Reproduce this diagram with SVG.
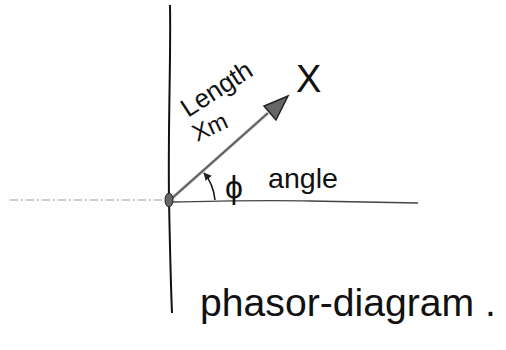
<svg xmlns="http://www.w3.org/2000/svg" width="506" height="350" viewBox="0 0 506 350">
<style>
.hand{font-family:"Liberation Sans",Arial,sans-serif;fill:#111}
</style>
<defs>
<marker id="ah" viewBox="0 0 10 10" refX="9" refY="5" markerWidth="8" markerHeight="8" orient="auto-start-reverse" markerUnits="userSpaceOnUse">
<path d="M0,0 L10,5 L0,10 z" fill="#222"/>
</marker>
</defs>
<rect width="506" height="350" fill="#fff"/>
<g id="axes">
<path d="M10,200 L165,200" stroke="#999" stroke-width="1" stroke-dasharray="8,3,2,3" fill="none"/>
<path d="M172,202 C220,201 260,200 310,201 L418,203" stroke="#444" stroke-width="1.3" fill="none"/>
<path d="M170,5 C171,60 168,120 169,200 C170,250 171,290 172,313" stroke="#111" stroke-width="2" fill="none"/>
</g>
<g id="phasor">
<line x1="170" y1="200" x2="268" y2="113" stroke="#888" stroke-width="3"/>
<line x1="170" y1="200" x2="268" y2="113" stroke="#333" stroke-width="0.8"/>
<path d="M288,96 L264,106 L276,120 z" fill="#666" stroke="#222" stroke-width="1.5"/>
<ellipse cx="169" cy="200" rx="4" ry="7" fill="#666" stroke="#222" stroke-width="1"/>
<path d="M215,200 C214,190 211,181 204,173" stroke="#111" stroke-width="1.5" fill="none" marker-end="url(#ah)"/>
</g>
<g id="labels">
<text class="hand" x="188" y="118" font-size="26" transform="rotate(-33 188 118)">Length</text>
<text class="hand" x="197" y="142" font-size="24" transform="rotate(-25 197 142)">Xm</text>
<text class="hand" x="296" y="92" font-size="38">X</text>
<text class="hand" x="225" y="198" font-size="32">ϕ</text>
<text class="hand" x="268" y="188" font-size="28" textLength="70" lengthAdjust="spacingAndGlyphs">angle</text>
<text class="hand" x="200" y="316" font-size="38" textLength="296" lengthAdjust="spacingAndGlyphs">phasor-diagram .</text>
</g>
</svg>
